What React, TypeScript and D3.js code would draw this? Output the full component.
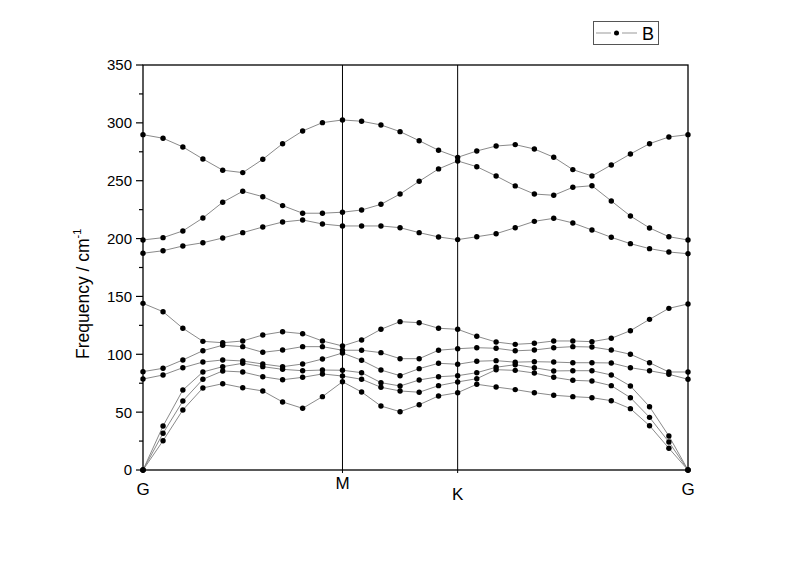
import React from 'react'
import * as d3 from 'd3'

// path distance of each k-point along G-M-K-G
const kDist = [
  0, 0.087, 0.173, 0.26, 0.346, 0.433, 0.52, 0.606, 0.693, 0.779, 0.866,
  0.949, 1.033, 1.116, 1.199, 1.283, 1.366,
  1.449, 1.533, 1.616, 1.699, 1.783, 1.866, 1.949, 2.033, 2.116, 2.199, 2.283, 2.366,
]

const kLabels = ['G', 'M', 'K', 'G']
const kLabelPos = [0, 0.866, 1.366, 2.366]

// bands, lowest first (cm-1)
const band1 = [0, 25.3, 51.9, 70.9, 74.6, 71.1, 68.3, 58.8, 53.3, 63.4, 76.3, 67.4, 55.3, 50.4, 56.4, 64, 66.8, 74.1, 71.7, 69.5, 66.8, 64.6, 63.4, 62.5, 59.9, 53, 38.3, 18.8, 0]
const band2 = [0, 31.7, 59.6, 78.4, 85.6, 84.7, 80.6, 78, 80.1, 83, 81.2, 78.4, 71.5, 68.3, 67.2, 72.9, 76.1, 78.9, 86.7, 86.1, 83.8, 80.1, 77.5, 76.9, 72.9, 62.5, 45.5, 24.2, 0]
const band3 = [0, 38, 69.1, 84.7, 89.3, 92.2, 89.3, 87, 85.8, 86.4, 86.2, 84.1, 75.5, 72.6, 77.8, 80.6, 81.5, 84.1, 88.8, 91, 88.4, 85.6, 85.8, 85.8, 82.1, 72.6, 54.7, 29.4, 0]
const band4 = [78.6, 82.1, 88.4, 93.3, 95.1, 94.2, 91.6, 89.3, 91.6, 95.9, 101.1, 94.8, 86.4, 81.5, 87.6, 92.2, 91.4, 94, 94.5, 93.2, 93.6, 93.3, 92.7, 92.7, 92.5, 88.4, 85.8, 82.7, 78.4]
const band5 = [85, 87.9, 95.1, 103.1, 107.8, 106.6, 101.7, 103.7, 106.6, 106.6, 103.5, 103.5, 101.4, 96.2, 96.2, 103.5, 104.8, 105.7, 105.2, 103, 103.7, 105.7, 106.6, 106.3, 103.7, 100, 92.7, 84.7, 84.7]
const band6 = [144, 136.8, 122.5, 111.2, 110, 111.5, 116.7, 119.5, 117.8, 111.5, 107.2, 112.4, 121.6, 128.2, 127.3, 122.5, 121.6, 115.6, 110.6, 108.6, 109.5, 111.5, 111.5, 110.9, 113.8, 120.4, 130.2, 139.7, 143.5]
const band7 = [187.3, 189.5, 193.6, 196.4, 200.5, 205.1, 210, 214.3, 216.1, 212.6, 210.9, 210.9, 210.9, 209.4, 205.1, 201.4, 199.1, 201.6, 204.2, 209.4, 214.9, 217.5, 213.5, 207.4, 201.1, 195.6, 191.3, 188.4, 186.9]
const band8 = [198.8, 200.8, 206.6, 217.8, 231.4, 240.9, 236.2, 228.5, 221.9, 221.9, 222.8, 224.7, 229.6, 238.5, 249.5, 260.2, 267.1, 262.1, 254.1, 245.5, 238.5, 237.4, 244.3, 245.7, 232.5, 219.5, 209.2, 201.6, 198.8]
const band9 = [289.8, 286.7, 279.2, 268.8, 259.1, 257, 268.5, 282, 293, 300.2, 302.5, 301.4, 298.2, 292.4, 284.6, 276.3, 270.2, 275.7, 280, 281.2, 277.4, 270.3, 259.6, 254.1, 263.6, 273.1, 282, 287.8, 289.8]

const bands = [band1, band2, band3, band4, band5, band6, band7, band8, band9]

const yMajor = [0, 50, 100, 150, 200, 250, 300, 350]
const yMinor = [25, 75, 125, 175, 225, 275, 325]

const font = '"Liberation Sans", Arial, sans-serif'

export default function App() {
  const x = d3.scaleLinear().domain([0, 2.366]).range([143, 688])
  const y = d3.scaleLinear().domain([0, 350]).range([470, 65])
  const line = d3.line<number>().x((_, i) => x(kDist[i])).y(v => y(v))

  const labelY = [495, 489, 500, 495]

  return (
    <svg width={800} height={565} style={{ position: 'absolute', left: 0, top: 0, background: '#fff' }}
      fontFamily={font}>
      <rect x={0} y={0} width={800} height={565} fill="#fff" />

      {/* high-symmetry lines */}
      {kLabelPos.slice(1, 3).map((k, i) => (
        <line key={'v' + i} x1={x(k)} x2={x(k)} y1={y(350)} y2={y(0)} stroke="#000" strokeWidth={1} />
      ))}

      {/* bands */}
      {bands.map((b, i) => (
        <path key={'b' + i} d={line(b) || ''} fill="none" stroke="#8a8a8a" strokeWidth={1} />
      ))}
      {bands.map((b, i) => (
        <g key={'p' + i}>
          {b.map((v, j) => (
            <circle key={j} cx={x(kDist[j])} cy={y(v)} r={2.7} fill="#000" />
          ))}
        </g>
      ))}

      {/* frame */}
      <rect x={x(0)} y={y(350)} width={x(2.366) - x(0)} height={y(0) - y(350)} fill="none" stroke="#000" strokeWidth={1.3} />

      {/* y axis */}
      {yMajor.map(t => (
        <g key={'ym' + t}>
          <line x1={x(0) - 7} x2={x(0)} y1={y(t)} y2={y(t)} stroke="#000" strokeWidth={1.2} />
          <text x={x(0) - 11} y={y(t)} dy="0.36em" textAnchor="end" fontSize={15} fill="#000">{t}</text>
        </g>
      ))}
      {yMinor.map(t => (
        <line key={'yn' + t} x1={x(0) - 4} x2={x(0)} y1={y(t)} y2={y(t)} stroke="#000" strokeWidth={1.2} />
      ))}

      {/* x axis labels */}
      {kLabelPos.map((k, i) => (
        <g key={'xl' + i}>
          <line x1={x(k)} x2={x(k)} y1={y(0)} y2={y(0) + 3} stroke="#000" strokeWidth={1} />
          <text x={x(k)} y={labelY[i]} textAnchor="middle" fontSize={17} fill="#000">{kLabels[i]}</text>
        </g>
      ))}

      {/* y title */}
      <text transform="translate(89,359) rotate(-90)" fontSize={17.5} fill="#000">
        Frequency / cm<tspan fontSize={11} dy={-8}>-1</tspan>
      </text>

      {/* legend */}
      <rect x={593.5} y={21.5} width={65} height={23} fill="#fff" stroke="#555" strokeWidth={1} />
      <line x1={596} x2={611} y1={33} y2={33} stroke="#aaa" strokeWidth={1.2} />
      <line x1={622} x2={637} y1={33} y2={33} stroke="#aaa" strokeWidth={1.2} />
      <circle cx={616.5} cy={33} r={2.5} fill="#000" />
      <text x={642} y={40} fontSize={18} fill="#000">B</text>
    </svg>
  )
}
